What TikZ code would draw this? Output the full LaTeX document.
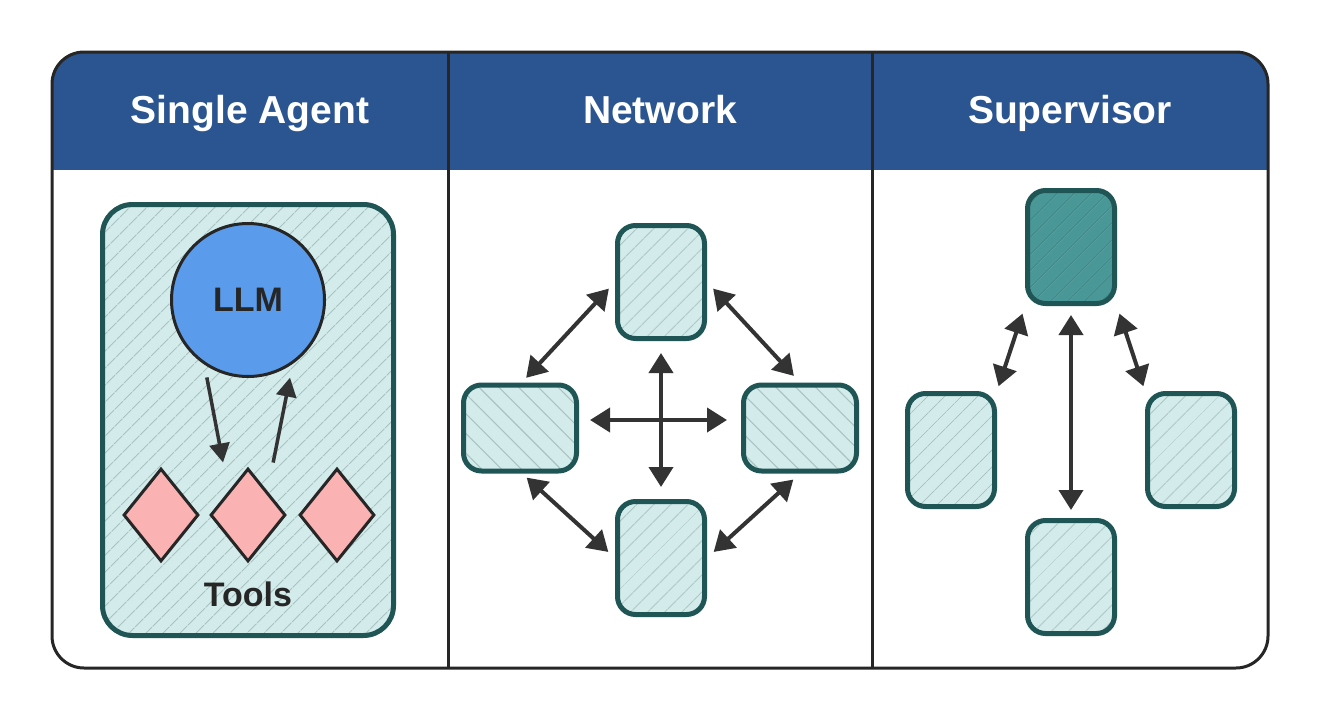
\documentclass[tikz,border=0pt]{standalone}
\usepackage{fontspec}
\setmainfont{Liberation Sans}
\usetikzlibrary{arrows.meta,shapes.geometric,patterns.meta}
\definecolor{headblue}{HTML}{2A5590}
\definecolor{framegray}{HTML}{262626}
\definecolor{tealfill}{HTML}{D3EBEB}
\definecolor{tealedge}{HTML}{1F5555}
\definecolor{tealdark}{HTML}{4A9797}
\definecolor{hatchgray}{HTML}{A9C3C3}
\definecolor{hatchdark}{HTML}{3F8787}
\definecolor{toolpink}{HTML}{FAB2B2}
\definecolor{llmblue}{HTML}{5A9CEB}
\definecolor{arrowgray}{HTML}{333333}
\tikzset{>={Triangle[length=20pt,width=24pt]}}
\tikzstyle{title}=[text=white,anchor=base,font=\fontsize{39}{44}\selectfont\bfseries]
\tikzstyle{label}=[text=framegray,font=\fontsize{34}{38}\selectfont\bfseries]
\tikzstyle{hatchup}=[pattern={Lines[angle=45,distance=13pt,line width=1.1pt]},pattern color=hatchgray]
\tikzstyle{hatchdown}=[pattern={Lines[angle=-45,distance=14pt,line width=1.1pt]},pattern color=hatchgray]
\tikzstyle{worker}=[rectangle,rounded corners=18pt,draw=tealedge,line width=5pt,preaction={fill=tealfill},hatchup,minimum width=87pt,minimum height=113pt,inner sep=0pt]
\tikzstyle{wide}=[worker,hatchdown,minimum width=113pt,minimum height=86pt]
\tikzstyle{tool}=[diamond,draw=framegray,fill=toolpink,line width=3pt,minimum width=75pt,minimum height=93pt,inner sep=0pt]
\tikzstyle{link}=[<->,draw=arrowgray,line width=4pt]
\tikzstyle{call}=[->,>={Triangle[length=19pt,width=20pt]},draw=arrowgray,line width=3.5pt]

\begin{document}
\begin{tikzpicture}[x=1pt,y=-1pt]
	\useasboundingbox (0,0) rectangle (1320,720);
	\fill[white] (0,0) rectangle (1320,720);
	\begin{scope}
		\clip[rounded corners=32pt] (52,52) rectangle (1268,668);
		\fill[headblue] (52,52) rectangle (1268,170);
	\end{scope}
	\draw[framegray,line width=3pt,rounded corners=32pt] (52,52) rectangle (1268,668);
	\draw[framegray,line width=3pt] (448,52) -- (448,668);
	\draw[framegray,line width=3pt] (872,52) -- (872,668);
	\node[title] (head1) at (250,123) {Single Agent};
	\node[title] (head2) at (660,123) {Network};
	\node[title] (head3) at (1070,123) {Supervisor};
	
	\node[worker, rounded corners=30pt, minimum width=291pt, minimum height=431pt] (agent) at (248,420) {};
	\node[circle, draw=framegray, fill=llmblue, line width=3pt, minimum size=153pt, label, inner sep=0pt] (llm) at (248,300) {LLM};
	\node[tool] (tool1) at (161,515) {};
	\node[tool] (tool2) at (248,515) {};
	\node[tool] (tool3) at (337,515) {};
	\node[label, anchor=base] (tools) at (248,606) {Tools};
	\draw[call, shorten <=13pt, shorten >=29pt] (llm.236) -- (tool2.north west);
	\draw[call, shorten <=29pt, shorten >=14pt] (tool2.north east) -- (llm.305);
	
	\node[worker] (ntop) at (661,282) {};
	\node[worker] (nbot) at (661,558) {};
	\node[wide] (nleft) at (520,428) {};
	\node[wide] (nright) at (800,428) {};
	\coordinate (hub) at (661,420);
	\draw[link, shorten <=9pt, shorten >=9pt] (nleft.north) -- (ntop.west);
	\draw[link, shorten <=9pt, shorten >=9pt] (ntop.east) -- (nright.north);
	\draw[link, shorten <=9pt, shorten >=9pt] (nleft.south) -- (nbot.west);
	\draw[link, shorten <=9pt, shorten >=9pt] (nright.south) -- (nbot.east);
	\draw[link, shorten <=12pt, shorten >=12pt] (ntop.south) -- (nbot.north);
	\draw[link, shorten <=13pt, shorten >=14pt] (hub -| nleft.east) -- (hub -| nright.west);
	
	\node[worker, preaction={fill=tealdark}, pattern color=hatchdark] (sup) at (1071,247) {};
	\node[worker] (sleft) at (951,450) {};
	\node[worker] (sright) at (1191,450) {};
	\node[worker] (sbot) at (1071,577) {};
	\draw[link, shorten <=5pt, shorten >=8pt] (sleft.north east) -- (sup.south west);
	\draw[link, shorten <=8pt, shorten >=5pt] (sup.south east) -- (sright.north west);
	\draw[link, shorten <=9pt, shorten >=8pt] (sup.south) -- (sbot.north);
\end{tikzpicture}
\end{document}
